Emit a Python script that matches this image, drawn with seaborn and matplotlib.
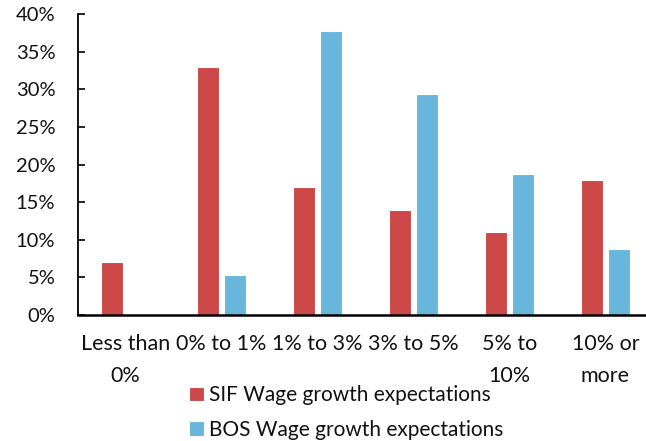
import numpy as np
import pandas as pd
import matplotlib
matplotlib.use("Agg")
import matplotlib.pyplot as plt
import seaborn as sns
from matplotlib.ticker import FuncFormatter

categories = ["Less than\n0%", "0% to 1%", "1% to 3%", "3% to 5%", "5% to\n10%", "10% or\nmore"]
sif_values = [7.0, 33.0, 17.0, 14.0, 11.0, 18.0]
bos_values = [np.nan, 5.3, 37.7, 29.4, 18.8, 8.8]
series_names = ["SIF Wage growth expectations", "BOS Wage growth expectations"]
y_ticks = [0, 5, 10, 15, 20, 25, 30, 35, 40]

df = pd.DataFrame({
    "category": categories * 2,
    "value": sif_values + bos_values,
    "series": [series_names[0]] * len(categories) + [series_names[1]] * len(categories),
})

sns.set_style("white")
plt.rcParams["font.family"] = ["Lato", "DejaVu Sans"]

fig = plt.figure(figsize=(6.46, 4.41), dpi=100)
ax = fig.add_axes([77.5 / 646, 1 - 315 / 441, 576 / 646, (315 - 14) / 441])

sns.barplot(data=df, x="category", y="value", hue="series",
            order=categories, hue_order=series_names,
            palette=["#CC4849", "#68B6DC"], saturation=1, width=0.5625, gap=0.15,
            edgecolor="white", linewidth=0.8, errorbar=None, ax=ax)

ax.set_ylim(0, 40)
ax.set_yticks(y_ticks)
ax.yaxis.set_major_formatter(FuncFormatter(lambda v, p: f"{v:.0f}%"))
ax.set_xlabel("")
ax.set_ylabel("")

for s in ["top", "right"]:
    ax.spines[s].set_visible(False)
ax.spines["left"].set_color("black")
ax.spines["left"].set_linewidth(1.3)
ax.spines["bottom"].set_color("black")
ax.spines["bottom"].set_linewidth(1.8)
ax.spines["bottom"].set_zorder(5)

ax.tick_params(axis="y", direction="in", length=5, width=1.2, color="black",
               left=True, pad=16, labelsize=14.5, labelcolor="#111111")
ax.tick_params(axis="x", length=0, pad=14, labelsize=15.5, labelcolor="#111111")
for lab in ax.get_xticklabels():
    lab.set_linespacing(1.7)

handles, labels = ax.get_legend_handles_labels()
ax.legend_.remove()
fig.legend(handles, labels, loc="center", bbox_to_anchor=(0.536, 0.064),
           frameon=False, fontsize=15, ncol=1, handlelength=0.7,
           handleheight=0.7, handletextpad=0.25, labelspacing=0.7,
           labelcolor="#111111")

fig.savefig("out.png", dpi=100)
